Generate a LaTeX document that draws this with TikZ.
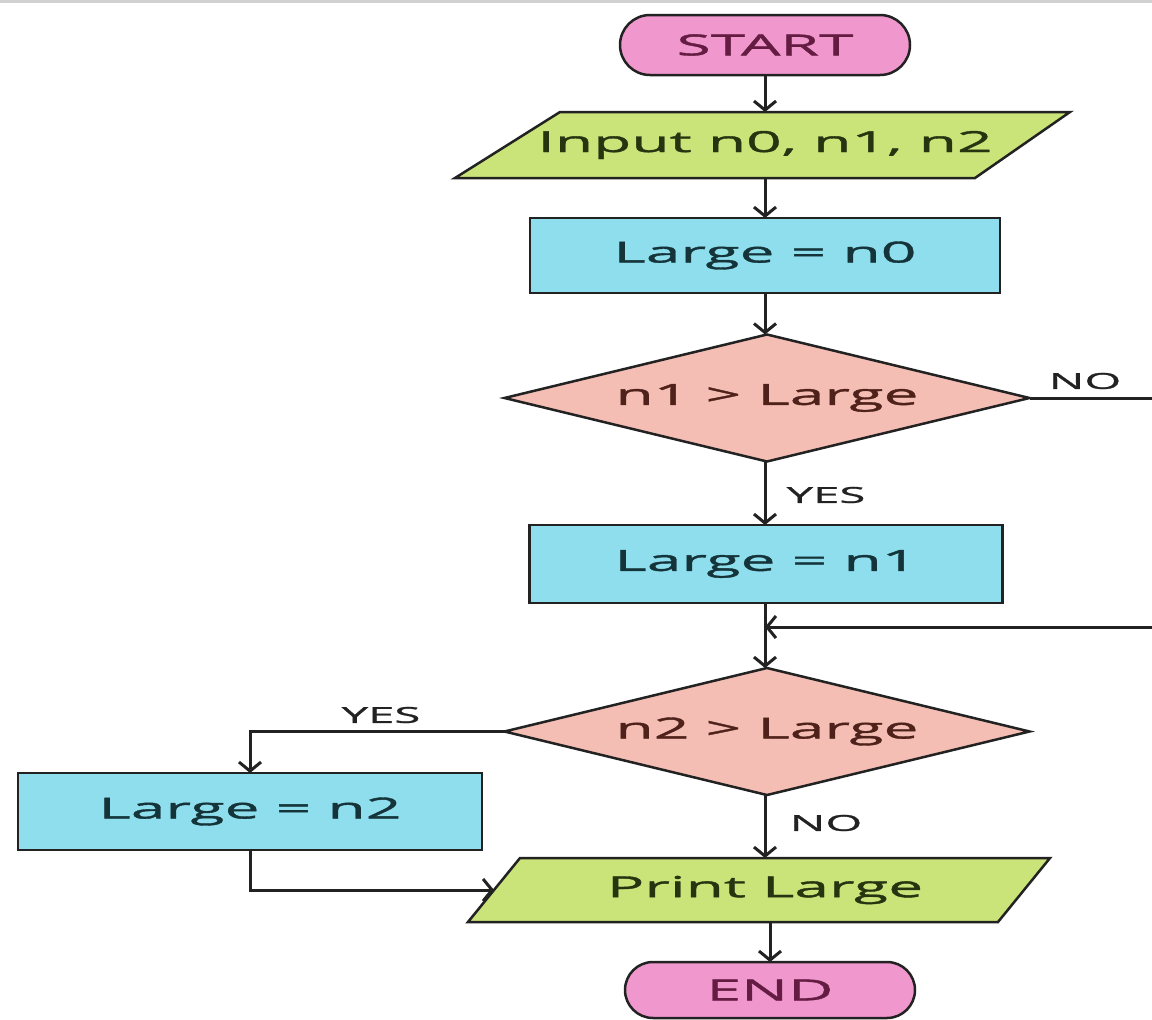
\documentclass[tikz,border=0pt]{standalone}
\usepackage{fontspec}
\setmainfont{Open Sans}
\newfontfamily\widefont[FakeStretch=2.15,FakeBold=1.3]{Open Sans}
\usetikzlibrary{arrows.meta,shapes.misc,shapes.geometric}

\definecolor{linec}{RGB}{34,34,34}
\definecolor{pinkfill}{RGB}{240,152,206}
\definecolor{greenfill}{RGB}{202,228,122}
\definecolor{cyanfill}{RGB}{142,222,238}
\definecolor{salmonfill}{RGB}{245,190,180}
\definecolor{pinktext}{RGB}{100,28,66}
\definecolor{greentext}{RGB}{38,52,16}
\definecolor{cyantext}{RGB}{20,52,58}
\definecolor{salmontext}{RGB}{78,34,26}

\tikzset{
  every node/.style={inner sep=0pt, outer sep=0pt},
  bigtext/.style={font=\widefont\fontsize{29}{32}\selectfont},
  tagtext/.style={font=\widefont\fontsize{22}{24}\selectfont, text=linec},
  terminal/.style={rounded rectangle, draw=linec, line width=2.5pt, fill=pinkfill,
    text=pinktext, bigtext},
  process/.style={rectangle, draw=linec, line width=2.5pt, fill=cyanfill,
    text=cyantext, bigtext},
  decision/.style={diamond, draw=linec, line width=2.5pt, fill=salmonfill,
    text=salmontext, bigtext, aspect=4.134, minimum width=525pt, minimum height=127pt},
  iobox/.style={rectangle, text=greentext, bigtext},
  iofill/.style={draw=linec, line width=2.5pt, fill=greenfill, line join=miter},
  flow/.style={draw=linec, line width=3pt,
    -{Straight Barb[length=9pt,width=22pt,line width=3pt]}},
}

\begin{document}
\begin{tikzpicture}[x=1pt,y=-1pt]
  \useasboundingbox (0,0) rectangle (1152,1020);
  \clip (0,0) rectangle (1152,1020);
  \fill[white] (0,0) rectangle (1152,1020);
  \draw[black!18, line width=2.5pt] (0,1.5) -- (1152,1.5);

  % parallelogram outlines for input and output
  \path[iofill] (455,178) -- (560,112) -- (1070,112) -- (975,178) -- cycle;
  \path[iofill] (468,922) -- (520,858) -- (1050,858) -- (998,922) -- cycle;

  % nodes
  \node[terminal, minimum width=290pt, minimum height=60pt] (start) at (765,45) {START};
  \node[iobox, minimum width=420pt, minimum height=66pt] (input) at (765,145) {Input n0, n1, n2};
  \node[process, minimum width=470pt, minimum height=75pt] (set0) at (765,255.5) {Large = n0};
  \node[decision] (test1) at (767,398) {n1 > Large};
  \node[process, minimum width=473pt, minimum height=78pt] (set1) at (766,564) {Large = n1};
  \coordinate (join) at (765,627);
  \node[decision] (test2) at (767,731.5) {n2 > Large};
  \node[process, minimum width=464pt, minimum height=77pt] (set2) at (250,811.5) {Large = n2};
  \node[iobox, minimum width=420pt, minimum height=64pt] (print) at (765,890) {Print Large};
  \coordinate (printin) at (494,890);
  \node[terminal, minimum width=290pt, minimum height=56pt] (stop) at (770,990) {END};

  % connectors
  \draw[flow] (start.south) -- (input.north);
  \draw[flow] (input.south) -- (set0.north);
  \draw[flow] (set0.south) -- (set0.south |- test1.north);
  \draw[flow] (test1.south -| set0.south) -- (set0.south |- set1.north);
  \draw[flow] (set0.south |- set1.south) -- (set0.south |- test2.north);
  \draw[flow] (test1.east) -- (1160,398) -- (1160,627) -- (join);
  \draw[flow] (test2.west) -| (set2.north);
  \draw[flow] (test2.south -| set0.south) -- (set0.south |- print.north);
  \draw[flow] (set2.south) |- (printin);
  \draw[flow] (print.south -| stop.north) -- (stop.north);

  % branch labels
  \node[tagtext] at (1085,381) {NO};
  \node[tagtext] at (826,495) {YES};
  \node[tagtext] at (381,715) {YES};
  \node[tagtext] at (826,823) {NO};
\end{tikzpicture}
\end{document}
